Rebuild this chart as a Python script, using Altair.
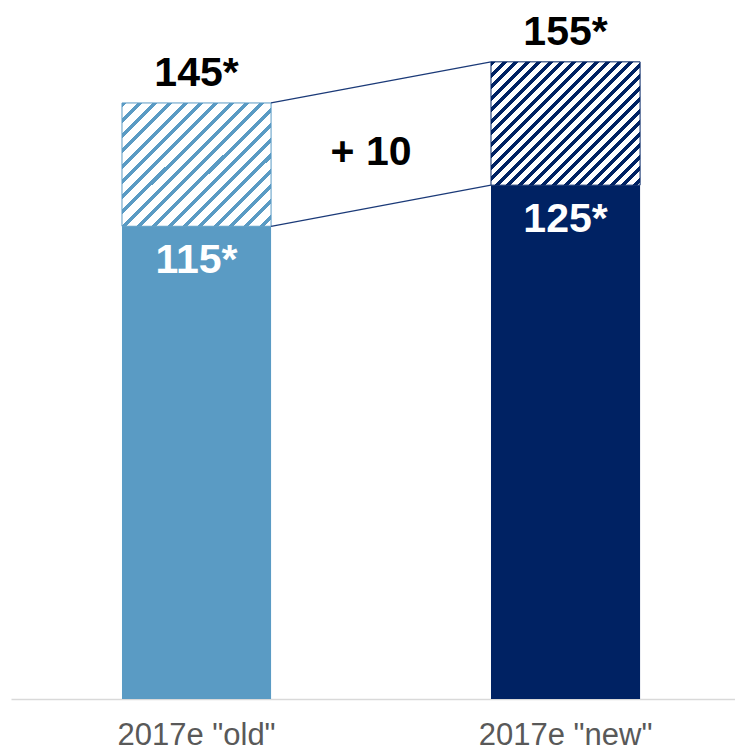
import altair as alt
import pandas as pd

# ---- data ----
categories = ['2017e "old"', '2017e "new"']
base_values = [115, 125]
total_values = [145, 155]
bar_colors = ["#5A9BC4", "#002263"]
hatch_periods = [17.8, 23.7]      # stripes per hatched block (style)
hatch_fill_frac = [0.33, 0.43]    # share of each stripe period that is coloured (style)

FONT = "Liberation Sans"

df = pd.DataFrame({
    "cat": categories,
    "base": base_values,
    "total": total_values,
    "base_label": [f"{v}*" for v in base_values],
    "total_label": [f"{v}*" for v in total_values],
})

conn = pd.DataFrame({
    "from": [categories[0], categories[0]],
    "to": [categories[1], categories[1]],
    "y_from": [base_values[0], total_values[0]],
    "y_to": [base_values[1], total_values[1]],
})

delta = total_values[1] - total_values[0]
delta_df = pd.DataFrame({
    "cat": [categories[0]],
    "mid": [(base_values[0] + base_values[1] + total_values[0] + total_values[1]) / 4],
    "label": [f"+ {delta}"],
})


def hatch(color, n, f):
    stops = []
    k = 0
    while k / n < 1:
        a = k / n
        b = min((k + f) / n, 1)
        c = min((k + 1) / n, 1)
        stops += [
            alt.GradientStop(offset=a, color=color),
            alt.GradientStop(offset=b, color=color),
            alt.GradientStop(offset=b, color="#ffffff"),
            alt.GradientStop(offset=c, color="#ffffff"),
        ]
        k += 1
    return alt.LinearGradient(gradient="linear", stops=stops, x1=0, y1=0, x2=1.0835, y2=0.899)


x_scale = alt.Scale(domain=categories, paddingInner=0.596, paddingOuter=0.279, align=0.539)
y_scale = alt.Scale(domain=[0, 168.1], nice=False, zero=True)

x_axis = alt.Axis(
    title=None, domainColor="#D9D9D9", domainWidth=1.5, ticks=False, tickSize=0,
    labelFontSize=31, labelColor="#595959", labelFont=FONT, labelPadding=45,
    labelBaseline="alphabetic", labelAngle=0, grid=False,
)


def xe(field, **kw):
    return alt.X(field, sort=categories, scale=x_scale, axis=x_axis, **kw)


solid = alt.Chart(df).mark_bar().encode(
    x=xe("cat:N"),
    y=alt.Y("base:Q", scale=y_scale, axis=None),
    color=alt.Color("cat:N", scale=alt.Scale(domain=categories, range=bar_colors), legend=None),
)

hatched_layers = []
for i, cat in enumerate(categories):
    hatched_layers.append(
        alt.Chart(df).transform_filter(alt.datum.cat == cat).mark_bar(
            fill=hatch(bar_colors[i], hatch_periods[i], hatch_fill_frac[i]),
            stroke=bar_colors[i], strokeWidth=1,
        ).encode(x=xe("cat:N"), y=alt.Y("base:Q", scale=y_scale, axis=None), y2="total:Q")
    )

connectors = alt.Chart(conn).mark_rule(color="#1B3A78", strokeWidth=1.3).encode(
    x=xe("from:N", bandPosition=1),
    x2=alt.X2("to:N", bandPosition=0),
    y=alt.Y("y_from:Q", scale=y_scale, axis=None),
    y2="y_to:Q",
)

total_text = alt.Chart(df).mark_text(
    font=FONT, fontSize=41, fontWeight="bold", color="#000000", dy=-16.5, baseline="alphabetic"
).encode(x=xe("cat:N"), y=alt.Y("total:Q", scale=y_scale, axis=None), text="total_label:N")

base_text = alt.Chart(df).mark_text(
    font=FONT, fontSize=41, fontWeight="bold", color="#ffffff", dy=47, baseline="alphabetic"
).encode(x=xe("cat:N"), y=alt.Y("base:Q", scale=y_scale, axis=None), text="base_label:N")

delta_text = alt.Chart(delta_df).mark_text(
    font=FONT, fontSize=41, fontWeight="bold", color="#000000", dx=100, dy=21, baseline="alphabetic"
).encode(
    x=xe("cat:N", bandPosition=1),
    y=alt.Y("mid:Q", scale=y_scale, axis=None),
    text="label:N",
)

chart = alt.layer(solid, *hatched_layers, connectors, total_text, base_text, delta_text).properties(
    width=724, height=691,
    autosize=alt.AutoSizeParams(type="none"),
    padding={"left": 3, "top": 0, "right": 0, "bottom": 52},
).configure_view(stroke=None)

chart.save("out.html", embed_options={"renderer": "svg", "actions": False})
